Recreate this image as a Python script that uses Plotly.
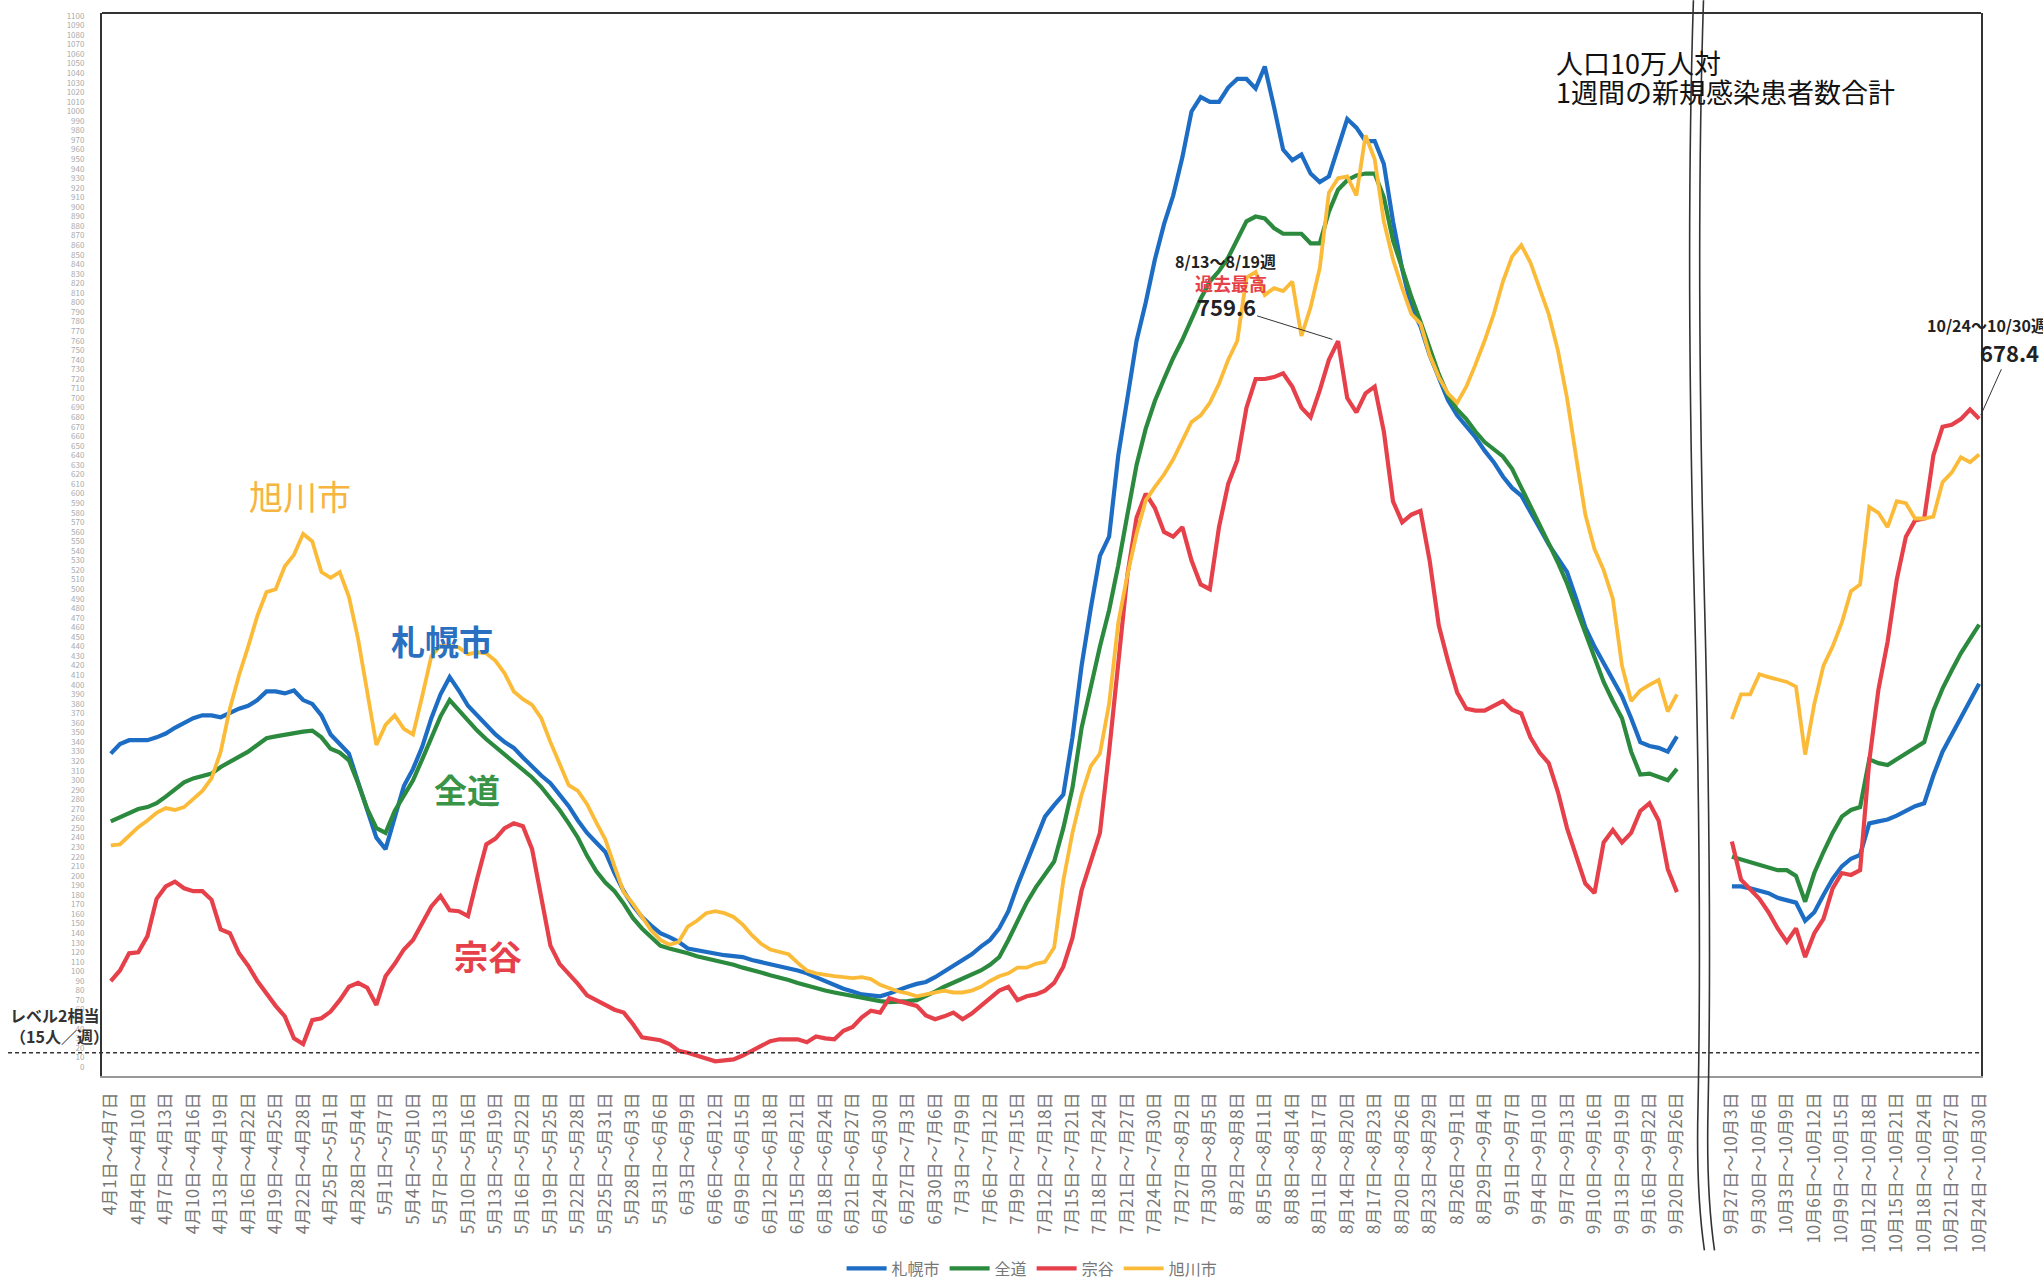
import plotly.graph_objects as go

# ---------------- data ----------------
labels_1 = ["4月1日～4月7日","4月4日～4月10日","4月7日～4月13日","4月10日～4月16日","4月13日～4月19日",
            "4月16日～4月22日","4月19日～4月25日","4月22日～4月28日","4月25日～5月1日","4月28日～5月4日",
            "5月1日～5月7日","5月4日～5月10日","5月7日～5月13日","5月10日～5月16日","5月13日～5月19日",
            "5月16日～5月22日","5月19日～5月25日","5月22日～5月28日","5月25日～5月31日","5月28日～6月3日",
            "5月31日～6月6日","6月3日～6月9日","6月6日～6月12日","6月9日～6月15日","6月12日～6月18日",
            "6月15日～6月21日","6月18日～6月24日","6月21日～6月27日","6月24日～6月30日","6月27日～7月3日",
            "6月30日～7月6日","7月3日～7月9日","7月6日～7月12日","7月9日～7月15日","7月12日～7月18日",
            "7月15日～7月21日","7月18日～7月24日","7月21日～7月27日","7月24日～7月30日","7月27日～8月2日",
            "7月30日～8月5日","8月2日～8月8日","8月5日～8月11日","8月8日～8月14日","8月11日～8月17日",
            "8月14日～8月20日","8月17日～8月23日","8月20日～8月26日","8月23日～8月29日","8月26日～9月1日",
            "8月29日～9月4日","9月1日～9月7日","9月4日～9月10日","9月7日～9月13日","9月10日～9月16日",
            "9月13日～9月19日","9月16日～9月22日","9月20日～9月26日"]
labels_2 = ["9月27日～10月3日","9月30日～10月6日","10月3日～10月9日","10月6日～10月12日","10月9日～10月15日",
            "10月12日～10月18日","10月15日～10月21日","10月18日～10月24日","10月21日～10月27日","10月24日～10月30日"]

sapporo_1 = [328,338,342,342,342,345,349,355,360,365,
             368,368,366,371,375,378,384,393,393,391,
             394,384,380,368,348,338,328,298,270,240,
             228,260,294,312,335,365,390,408,394,378,
             368,358,348,340,334,324,314,305,297,285,
             273,258,245,235,225,203,184,169,157,148,
             140,136,131,124,122,121,118,117,116,115,
             112,110,108,106,104,101,98,94,89,85,
             82,79,76,75,74,77,81,84,87,89,
             94,100,106,113,118,126,133,145,163,190,
             214,240,262,274,285,345,420,480,535,555,
             640,700,760,800,845,882,912,952,1000,1015,
             1010,1010,1025,1034,1034,1024,1047,1005,960,949,
             955,935,926,932,962,992,983,969,969,945,
             885,835,795,775,745,720,698,682,671,659,
             645,633,618,606,598,580,564,547,532,518,
             490,460,440,422,405,388,365,340,336,334,
             330,346]
zendo_1 = [257,261,266,270,272,276,283,291,298,302,
           304,307,314,319,324,330,337,344,346,348,
           350,351,352,345,333,329,321,297,270,250,
           245,268,284,300,322,345,367,384,373,362,
           352,343,335,327,319,312,303,293,281,269,
           255,240,221,205,193,184,171,156,145,136,
           127,124,122,119,116,114,112,109,107,104,
           102,99,96,94,91,88,85,83,80,78,
           76,75,73,71,69,68,68,69,70,74,
           79,84,88,92,96,101,107,115,133,153,
           172,188,202,215,250,292,355,400,440,478,
           525,578,630,668,697,720,742,761,783,804,
           822,833,847,865,885,890,888,878,872,872,
           872,862,862,895,918,928,933,935,935,910,
           865,836,806,780,752,725,703,688,678,665,
           654,646,639,626,607,588,567,548,528,506,
           480,455,427,403,383,365,330,306,307,304,
           300,312]
souya_1 = [90,101,119,120,137,176,189,194,187,184,
           184,175,144,140,119,106,90,77,64,53,
           30,24,49,51,58,70,84,88,83,65,
           95,108,123,133,150,168,179,164,163,158,
           197,233,239,250,255,252,228,180,127,108,
           98,87,75,70,66,60,57,45,31,29,
           28,24,17,15,12,9,6,7,8,12,
           17,22,27,29,29,29,26,32,30,29,
           38,42,52,59,57,72,69,66,64,54,
           50,53,57,50,56,64,72,80,84,70,
           74,76,80,88,105,135,185,215,245,330,
           425,515,575,600,585,560,555,565,530,505,
           500,565,610,635,690,720,720,722,726,712,
           690,680,708,740,759.6,700,685,705,712,665,
           592,570,578,582,530,462,425,392,375,373,
           373,378,383,374,370,345,329,318,288,250,
           220,192,182,235,248,235,245,268,276,258,
           207,183]
asahikawa_1 = [232,233,242,251,258,266,271,269,272,281,
               289,302,330,375,410,440,472,497,500,524,
               536,558,550,518,512,518,492,448,390,337,
               358,368,354,348,388,430,441,441,439,432,
               434,433,425,412,393,385,379,365,340,318,
               295,289,275,256,238,210,183,171,157,143,
               133,128,131,147,153,161,163,161,157,149,
               138,129,123,121,118,109,101,98,96,95,
               94,93,94,92,86,82,79,77,74,76,
               78,80,78,78,80,84,90,95,98,104,
               104,108,110,125,195,245,285,315,328,380,
               465,515,558,593,607,620,636,656,675,682,
               695,715,740,760,826,832,808,815,812,822,
               765,795,836,915,930,932,912,975,950,885,
               845,815,788,778,745,722,705,695,712,735,
               760,788,822,848,860,842,815,788,750,700,
               638,578,542,520,490,420,383,394,400,405,
               372,390]

sapporo_2 = [189,189,187,185,182,177,175,172,153,162,180,197,210,218,222,255,257,259,263,268,273,276,305,330,348,366,385,401]
zendo_2 = [220,217,214,211,208,206,206,200,173,203,225,245,262,269,272,322,318,316,322,328,333,340,373,396,415,433,448,463]
souya_2 = [236,196,186,176,162,145,131,145,115,140,155,187,203,201,206,320,395,445,510,555,572,574,640,670,672,678,688,678.4]
asahikawa_2 = [364,390,390,411,408,405,403,398,327,380,420,440,465,498,505,586,580,565,592,590,574,574,576,612,622,638,633,641]

GAP = 5          # days hidden by the axis break
LEVEL2 = 15      # level-2 threshold
PEAK_IDX = 134   # 8/13~8/19 week in the first period

# ---------------- positions ----------------
n1 = len(sapporo_1)
x1 = list(range(n1))
x2 = list(range(n1 + GAP, n1 + GAP + len(sapporo_2)))
x_all = x1 + [n1] + x2
tickvals = x1[::3] + x2[::3]
ticktext = labels_1 + labels_2

X_MIN, X_MAX = -0.96, x2[-1] + 0.2
Y_MIN, Y_MAX = -9.4, 1103

FONT = "Noto Sans CJK JP"

series = [
    ("札幌市", sapporo_1, sapporo_2, "#1c6dc3", 4.2),
    ("全道", zendo_1, zendo_2, "#2b8a3e", 4.2),
    ("宗谷", souya_1, souya_2, "#e6414a", 4.2),
    ("旭川市", asahikawa_1, asahikawa_2, "#fbbb38", 3.8),
]

fig = go.Figure()
for name, a, b, col, w in series:
    fig.add_trace(go.Scatter(x=x_all, y=a + [None] + b, mode="lines", name=name,
                             line=dict(color=col, width=w), connectgaps=False))

def xp(idx):
    return (idx - X_MIN) / (X_MAX - X_MIN)

shapes = [
    dict(type="line", xref="paper", yref="paper", x0=0, x1=1, y0=1, y1=1,
         line=dict(color="#333", width=2)),
    dict(type="line", xref="paper", yref="y", x0=-0.05, x1=1, y0=LEVEL2, y1=LEVEL2,
         line=dict(color="#333", width=1.5, dash="4px,3px")),
]
for off in (0.0, 1.1):
    p = ("M {a},1.012 C {b},0.85 {c},0.65 {d},0.45 C {e},0.25 {f},0.1 {g},-0.03 "
         "C {h},-0.1 {i},-0.14 {j},-0.164").format(
        a=xp(172.8 + off), b=xp(172.2 + off), c=xp(172.3 + off), d=xp(172.9 + off),
        e=xp(173.5 + off), f=xp(173.6 + off), g=xp(173.3 + off), h=xp(173.1 + off),
        i=xp(173.6 + off), j=xp(174.0 + off))
    shapes.append(dict(type="path", xref="paper", yref="paper", path=p,
                       line=dict(color="#333", width=1.6)))

def note(x, y, text, size, color, xanchor="center", **kw):
    return dict(xref="paper", yref="paper", x=x, y=y, text=text, showarrow=False,
                xanchor=xanchor, yanchor="middle",
                font=dict(size=size, color=color, family=FONT), **kw)

annotations = [
    dict(x=20.65, y=598, text="旭川市", showarrow=False, yanchor="middle",
         font=dict(size=34, color="#f6b53e", family=FONT)),
    dict(x=36.2, y=446, text="<b>札幌市</b>", showarrow=False, yanchor="middle",
         font=dict(size=34, color="#2a6fc0", family=FONT)),
    dict(x=38.9, y=291, text="<b>全道</b>", showarrow=False, yanchor="middle",
         font=dict(size=33, color="#3a9448", family=FONT)),
    dict(x=41.2, y=117, text="<b>宗谷</b>", showarrow=False, yanchor="middle",
         font=dict(size=34, color="#e6414a", family=FONT)),
    note(-0.05, 0.0574, "<b>レベル2相当</b>", 16, "#333", xanchor="left"),
    note(-0.05, 0.0376, "<b>（15人／週）</b>", 16, "#333", xanchor="left"),
    note(0.773, 0.9539, "人口10万人対", 27, "#111", xanchor="left"),
    note(0.773, 0.9257, "1週間の新規感染患者数合計", 27, "#111", xanchor="left"),
    note(0.598, 0.7667, "<b>8/13～8/19週</b>", 16, "#222"),
    note(0.6008, 0.746, "<b>過去最高</b>", 18, "#e6414a"),
    dict(x=PEAK_IDX, y=souya_1[PEAK_IDX], ax=-112, ay=-35, text="<b>759.6</b>",
         showarrow=True, arrowhead=0, arrowwidth=1, arrowcolor="#333", standoff=6,
         font=dict(size=22, color="#222", family=FONT)),
    note(0.970, 0.7065, "<b>10/24～10/30週</b>", 16, "#222", xanchor="left"),
    dict(x=x2[-1], y=souya_2[-1], ax=30, ay=-67, text="<b>678.4</b>",
         showarrow=True, arrowhead=0, arrowwidth=1, arrowcolor="#333", standoff=4,
         font=dict(size=22, color="#222", family=FONT)),
]

fig.update_layout(
    width=2043, height=1280,
    margin=dict(l=102, r=62, t=13, b=204, autoexpand=False),
    paper_bgcolor="white", plot_bgcolor="white",
    font=dict(family=FONT, color="#333"),
    shapes=shapes, annotations=annotations,
    showlegend=True,
    legend=dict(orientation="h", x=0.495, xanchor="center", y=-0.197, yanchor="bottom",
                font=dict(size=16, color="#777", family=FONT), itemwidth=40,
                bgcolor="rgba(0,0,0,0)"),
    xaxis=dict(range=[X_MIN, X_MAX], tickmode="array", tickvals=tickvals, ticktext=ticktext,
               tickangle=-90, tickfont=dict(size=17, color="#777", family=FONT),
               showgrid=False, zeroline=False, showline=True, linecolor="#999", linewidth=1.5,
               ticks="", ticklabelstandoff=8, automargin=False),
    yaxis=dict(range=[Y_MIN, Y_MAX], tick0=0, dtick=10,
               tickfont=dict(size=8, color="#aaaaaa", family=FONT),
               showgrid=False, zeroline=False, showline=True, mirror=True,
               linecolor="#333", linewidth=2, ticks="", ticklabelstandoff=14, automargin=False),
)

fig.write_html("out.html", config={"displayModeBar": False},
               post_script="document.body.style.margin='0';document.body.style.overflow='hidden';")
